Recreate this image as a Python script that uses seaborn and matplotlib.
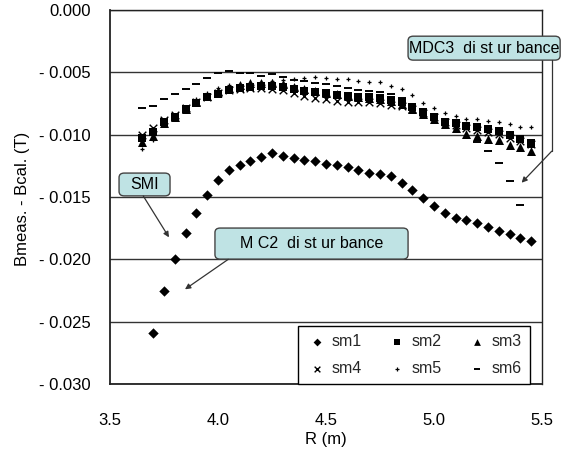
import matplotlib.pyplot as plt
import pandas as pd
import seaborn as sns
from matplotlib.patches import FancyBboxPatch

# radial positions (m)
r_values = [3.65, 3.70, 3.75, 3.80, 3.85, 3.90, 3.95, 4.00, 4.05, 4.10,
            4.15, 4.20, 4.25, 4.30, 4.35, 4.40, 4.45, 4.50, 4.55, 4.60,
            4.65, 4.70, 4.75, 4.80, 4.85, 4.90, 4.95, 5.00, 5.05, 5.10,
            5.15, 5.20, 5.25, 5.30, 5.35, 5.40, 5.45]
r_sm1 = r_values[1:]

sm1 = [-0.02591, -0.02254, -0.01997, -0.01789, -0.01628, -0.01481, -0.01364, -0.01283, -0.01243,
       -0.01209, -0.01181, -0.01149, -0.01169, -0.01189, -0.01203, -0.01209, -0.01235, -0.01243,
       -0.01262, -0.01283, -0.01310, -0.01315, -0.01335, -0.01390, -0.01444, -0.01510, -0.01570,
       -0.01626, -0.01666, -0.01687, -0.01711, -0.01738, -0.01770, -0.01796, -0.01831, -0.01850]
sm2 = [-0.01027, -0.00978, -0.00896, -0.00856, -0.00796, -0.00743, -0.00700, -0.00670, -0.00642, -0.00626,
       -0.00618, -0.00610, -0.00610, -0.00618, -0.00634, -0.00650, -0.00658, -0.00668, -0.00682, -0.00690,
       -0.00695, -0.00700, -0.00708, -0.00722, -0.00740, -0.00780, -0.00816, -0.00856, -0.00896, -0.00904,
       -0.00930, -0.00936, -0.00957, -0.00970, -0.01003, -0.01035, -0.01064]
sm3 = [-0.01056, -0.01011, -0.00906, -0.00862, -0.00794, -0.00738, -0.00690, -0.00650, -0.00622, -0.00602,
       -0.00589, -0.00585, -0.00585, -0.00593, -0.00618, -0.00634, -0.00650, -0.00662, -0.00674, -0.00686,
       -0.00694, -0.00702, -0.00714, -0.00730, -0.00754, -0.00794, -0.00834, -0.00874, -0.00914, -0.00946,
       -0.00994, -0.01011, -0.01035, -0.01043, -0.01083, -0.01101, -0.01128]
sm4 = [-0.01003, -0.00949, -0.00882, -0.00842, -0.00786, -0.00738, -0.00698, -0.00666, -0.00642, -0.00630,
       -0.00626, -0.00626, -0.00630, -0.00642, -0.00666, -0.00690, -0.00702, -0.00714, -0.00726, -0.00735,
       -0.00735, -0.00735, -0.00743, -0.00762, -0.00770, -0.00794, -0.00826, -0.00858, -0.00898, -0.00922,
       -0.00946, -0.00962, -0.00978, -0.00994, -0.01027, -0.01051, -0.01075]
sm5 = [-0.01117, -0.01043, -0.00922, -0.00850, -0.00778, -0.00714, -0.00666, -0.00626, -0.00602, -0.00593,
       -0.00585, -0.00577, -0.00569, -0.00561, -0.00553, -0.00545, -0.00540, -0.00548, -0.00556, -0.00556,
       -0.00567, -0.00580, -0.00580, -0.00607, -0.00634, -0.00682, -0.00743, -0.00784, -0.00828, -0.00848,
       -0.00874, -0.00877, -0.00890, -0.00901, -0.00917, -0.00936, -0.00936]
sm6 = [-0.00788, -0.00770, -0.00716, -0.00676, -0.00636, -0.00593, -0.00548, -0.00508, -0.00489, -0.00508,
       -0.00508, -0.00529, -0.00513, -0.00535, -0.00561, -0.00573, -0.00585, -0.00593, -0.00607, -0.00626,
       -0.00644, -0.00652, -0.00660, -0.00676, -0.00706, -0.00754, -0.00802, -0.00842, -0.00882, -0.00914,
       -0.00946, -0.01056, -0.01128, -0.01229, -0.01369, -0.01564, -0.01100]

y_ticks = [0.000, -0.005, -0.010, -0.015, -0.020, -0.025, -0.030]
y_tick_labels = ["0.000", "- 0.005", "- 0.010", "- 0.015", "- 0.020", "- 0.025", "- 0.030"]
x_ticks = [3.5, 4.0, 4.5, 5.0, 5.5]
x_tick_labels = ["3.5", "4.0", "4.5", "5.0", "5.5"]

series = {
    "sm1": (r_sm1, sm1),
    "sm2": (r_values, sm2),
    "sm3": (r_values, sm3),
    "sm4": (r_values, sm4),
    "sm5": (r_values, sm5),
    "sm6": (r_values, sm6),
}
frames = [pd.DataFrame({"R": r, "B": b, "probe": name}) for name, (r, b) in series.items()]
df = pd.concat(frames, ignore_index=True)

# marker, size, line width
marker_styles = {
    "sm1": ("D", 28, 0),
    "sm2": ("s", 32, 0),
    "sm3": ("^", 42, 0),
    "sm4": ("x", 30, 1.0),
    "sm5": ("+", 10, 0.9),
    "sm6": ("_", 28, 1.4),
}

sns.set_theme(style="white")
plt.rcParams["font.family"] = ["Liberation Sans", "DejaVu Sans"]

fig = plt.figure(figsize=(5.71, 4.53), dpi=100)
ax = fig.add_axes([0.1926, 0.1523, 0.7566, 0.8256])

for name, group in df.groupby("probe", sort=False):
    marker, size, lw = marker_styles[name]
    sns.scatterplot(data=group, x="R", y="B", marker=marker, s=size, color="black",
                    linewidth=lw, label=name, legend=False, ax=ax, zorder=3)

ax.set_xlim(3.5, 5.5)
ax.set_ylim(-0.030, 0.0)
ax.set_xticks(x_ticks)
ax.set_xticklabels(x_tick_labels)
ax.set_yticks(y_ticks)
ax.set_yticklabels(y_tick_labels)
ax.tick_params(axis="x", direction="in", length=4, width=1, pad=21, labelsize=12, colors="black")
ax.tick_params(axis="y", length=0, pad=14, labelsize=12, colors="black")
ax.grid(axis="y", color="#333333", linewidth=1.0)
ax.set_axisbelow(True)
for side, spine in ax.spines.items():
    spine.set_color("#222222")
    spine.set_linewidth(1.3 if side in ("left", "bottom") else 1.0)

ax.set_xlabel("R (m)", fontsize=12, color="black")
ax.set_ylabel("Bmeas. - Bcal. (T)", fontsize=12, color="black")
ax.xaxis.set_label_coords(0.5, -0.128)
ax.yaxis.set_label_coords(-0.185, 0.496)

# legend rows: sm1 sm2 sm3 / sm4 sm5 sm6 (ncol fills column by column)
handles, labels = ax.get_legend_handles_labels()
order = [0, 3, 1, 4, 2, 5]
leg = ax.legend([handles[i] for i in order], [labels[i] for i in order],
                loc="lower left", bbox_to_anchor=(0.435, 0.0, 0.537, 0.158), mode="expand",
                ncol=3, fontsize=11.5, frameon=True, fancybox=False, framealpha=1,
                edgecolor="black", borderaxespad=0, handletextpad=0.2, labelspacing=0.75,
                columnspacing=0.8, handlelength=1.4, borderpad=0.5, markerscale=0.75)
leg.get_frame().set_linewidth(1.0)
leg.set_zorder(5)

box_color = "#bfe3e4"
callouts = [
    ((0.690, 0.866, 0.352, 0.064), "MDC3  di st ur bance"),
    ((0.021, 0.503, 0.118, 0.061), "SMI"),
    ((0.243, 0.334, 0.447, 0.083), "M C2  di st ur bance"),
]
for (x0, y0, w, h), text in callouts:
    patch = FancyBboxPatch((x0, y0), w, h, boxstyle="round,pad=0,rounding_size=0.012",
                           transform=ax.transAxes, facecolor=box_color, edgecolor="#444444",
                           linewidth=1.0, clip_on=False, zorder=6)
    ax.add_patch(patch)
    ax.text(x0 + w / 2, y0 + h / 2, text, transform=ax.transAxes, ha="center", va="center",
            fontsize=11.5, color="black", zorder=7)

arrow = dict(arrowstyle="-|>", color="#333333", linewidth=0.9, mutation_scale=8,
             shrinkA=0, shrinkB=0)
ax.plot([1.0225, 1.0225], [0.866, 0.6225], transform=ax.transAxes, color="#333333",
        linewidth=0.9, clip_on=False, zorder=6)
ax.annotate("", xy=(0.9528, 0.5382), xytext=(1.0225, 0.6225), xycoords="axes fraction",
            textcoords="axes fraction", arrowprops=arrow, zorder=6, annotation_clip=False)
ax.annotate("", xy=(0.1366, 0.3922), xytext=(0.0771, 0.5027), xycoords="axes fraction",
            textcoords="axes fraction", arrowprops=arrow, zorder=6)
ax.annotate("", xy=(0.1736, 0.2532), xytext=(0.2738, 0.3334), xycoords="axes fraction",
            textcoords="axes fraction", arrowprops=arrow, zorder=6)

fig.savefig("out.png", dpi=100)
plt.close(fig)
